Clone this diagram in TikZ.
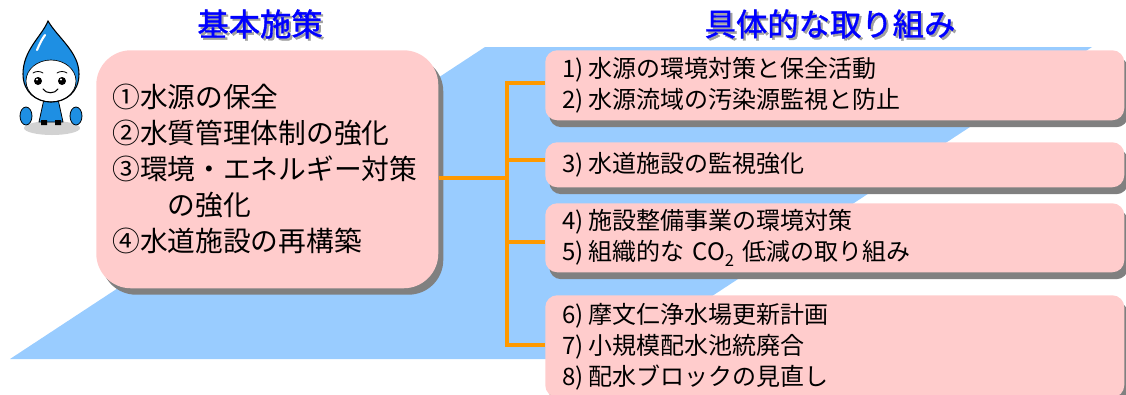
\documentclass[tikz,border=0pt]{standalone}
\usepackage{fontspec}
\setmainfont{Noto Sans CJK JP}
\newfontfamily\titlefont[FakeBold=1.2]{Noto Sans CJK JP}
\usetikzlibrary{shadows}

\definecolor{boxpink}{HTML}{FFCCCC}
\definecolor{skyblue}{HTML}{99CCFF}
\definecolor{linkorange}{HTML}{FF9900}
\definecolor{titleblue}{HTML}{0000FF}
\definecolor{dropblue}{HTML}{1E8FE3}
\definecolor{boxshade}{HTML}{808080}
\definecolor{titleshade}{HTML}{A0A0A0}

% heading text with a soft grey offset copy behind it
\newcommand{\shadedtitle}[1]{%
  \makebox[0pt][l]{\hspace{1.6pt}\raisebox{-1.6pt}{\textcolor{titleshade}{#1}}}#1}
% item number such as "1)" followed by a small gap
\newcommand{\itemno}[1]{#1)\hspace{0.2em}}

\begin{document}
\begin{tikzpicture}[x=0.75pt,y=-0.75pt,
  heading/.style={text=titleblue, inner sep=0pt,
    font=\titlefont\fontsize{23.5}{24}\selectfont},
  policybox/.style={fill=boxpink, rounded corners=26pt, anchor=north west,
    align=left, inner xsep=12pt, inner ysep=0pt,
    text width=232.5pt, minimum height=178.5pt,
    font=\fontsize{20.8}{27}\selectfont,
    drop shadow={shadow xshift=3.75pt, shadow yshift=-4.8pt,
      fill=boxshade, opacity=1}},
  actbox/.style={fill=boxpink, rounded corners=9pt, anchor=north west,
    align=left, inner xsep=12.75pt, inner ysep=0pt,
    text width=408.75pt,
    font=\fontsize{18}{23.25}\selectfont,
    drop shadow={shadow xshift=3pt, shadow yshift=-5.2pt,
      fill=boxshade, opacity=1}},
  link/.style={draw=linkorange, line width=3pt, line join=miter}]

\useasboundingbox (0,0) rectangle (1126,394);

% slanted light-blue band behind the boxes
\fill[skyblue] (10,359) -- (485,47) -- (1092,47) -- (616,359) -- cycle;

% water-drop mascot
\fill[gray!35] (52,128) ellipse [x radius=28, y radius=7];
\filldraw[fill=dropblue, draw=black, line width=0.6pt]
  (26,116) ellipse [x radius=6, y radius=9]
  (76,116) ellipse [x radius=6, y radius=9];
\filldraw[fill=dropblue, draw=black, line width=0.6pt]
  (44,99) -- (58,99) -- (63,122) -- (39,122) -- cycle;
\fill[black] (41,120) rectangle (47,125) (55,120) rectangle (61,125);
\fill[dropblue]
  (48,21) .. controls (42,36) and (23,50) .. (23,74)
  .. controls (23,92) and (36,102) .. (51,102)
  .. controls (66,102) and (79,92) .. (79,74)
  .. controls (79,52) and (58,38) .. (48,21) -- cycle;
\filldraw[fill=white, draw=black, line width=0.5pt]
  (51,81) ellipse [x radius=25, y radius=21];
\draw[black, line width=0.8pt]
  (48,21) .. controls (42,36) and (23,50) .. (23,74)
  .. controls (23,92) and (36,102) .. (51,102)
  .. controls (66,102) and (79,92) .. (79,74)
  .. controls (79,52) and (58,38) .. (48,21) -- cycle;
\draw[white, line width=1.6pt, line cap=round]
  (45,35) .. controls (41,41) .. (37,50);
\fill[black] (38,81) circle [radius=4] (62,81) circle [radius=4];
\fill[white] (37,79.5) circle [radius=1.1] (61,79.5) circle [radius=1.1];
\draw[black, line width=0.6pt, line cap=round]
  (33,73) .. controls (36,71) and (40,71) .. (43,73)
  (57,73) .. controls (60,71) and (64,71) .. (67,73);
\draw[black, line width=0.8pt, line cap=round]
  (43,89) .. controls (46,94) and (55,94) .. (58,89);

% column headings
\node[heading] (headPolicy) at (260,25) {\shadedtitle{基本施策}};
\node[heading] (headAction) at (830,25) {\shadedtitle{具体的な取り組み}};

% basic policies
\node[policybox] (policy) at (96,50) {%
  ①水源の保全\\
  ②水質管理体制の強化\\
  ③環境・エネルギー対策\\
  \hspace*{2em}の強化\\
  ④水道施設の再構築};

% concrete actions
\node[actbox, minimum height=52.5pt] (act1) at (545,50) {%
  \itemno{1}水源の環境対策と保全活動\\
  \itemno{2}水源流域の汚染源監視と防止};
\node[actbox, minimum height=33.75pt] (act2) at (545,142) {%
  \itemno{3}水道施設の監視強化};
\node[actbox, minimum height=51.75pt] (act3) at (545,203) {%
  \itemno{4}施設整備事業の環境対策\\
  \itemno{5}組織的な CO\raisebox{-0.4ex}{\fontsize{12.5}{12.5}\selectfont 2} 低減の取り組み};
\node[actbox, minimum height=76.5pt] (act4) at (545,295) {%
  \itemno{6}摩文仁浄水場更新計画\\
  \itemno{7}小規模配水池統廃合\\
  \itemno{8}配水ブロックの見直し};

% orange tree connecting policies to actions
\coordinate (hub) at (507,178);
\coordinate (spineTop) at (507,83);
\coordinate (spineBot) at (507,345);
\coordinate (j2) at (507,160);
\coordinate (j3) at (507,242);
\draw[link] (policy.east |- hub) -- (hub);
\draw[link] (spineTop -| act1.west) -- (spineTop) -- (spineBot) -- (spineBot -| act4.west);
\draw[link] (j2) -- (j2 -| act2.west);
\draw[link] (j3) -- (j3 -| act3.west);
\end{tikzpicture}
\end{document}
